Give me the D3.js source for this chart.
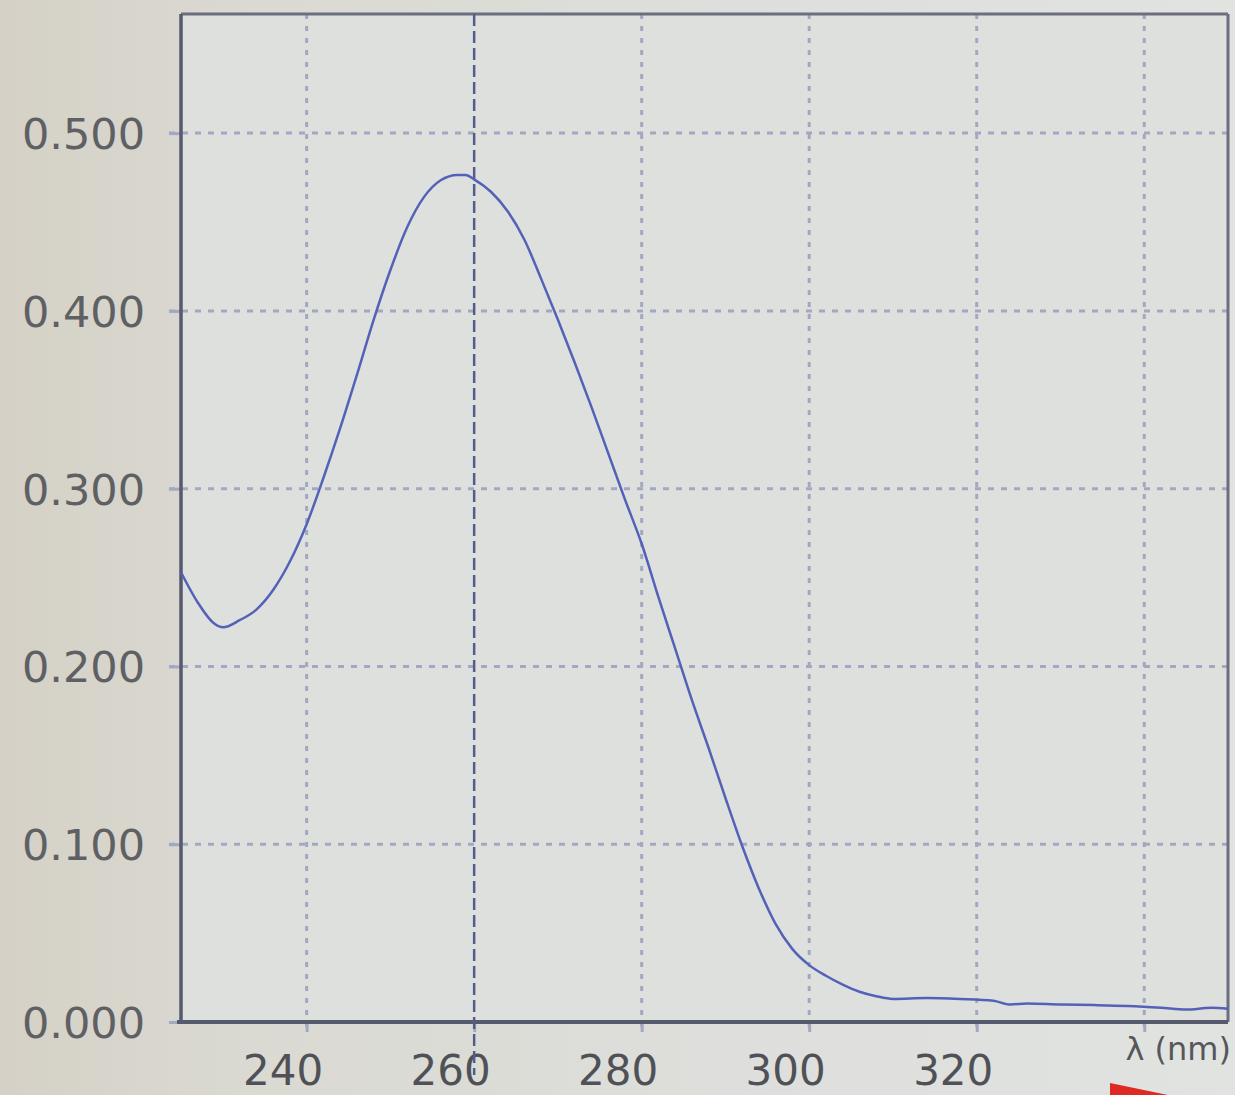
<!DOCTYPE html>
<html>
<head>
<meta charset="utf-8">
<script src="https://cdn.jsdelivr.net/npm/d3@7"></script>
<style>
  html, body { margin: 0; padding: 0; }
  body { width: 1235px; height: 1095px; overflow: hidden;
         background: linear-gradient(90deg, #d5d1c6 0%, #dad9d2 20%, #dedfdc 60%, #e1e3e0 100%); }
  svg { display: block; }
</style>
</head>
<body>
<svg id="chart" width="1235" height="1095"></svg>
<script>
// Absorbance spectrum
const wavelengths = [225, 227, 229, 230, 232, 234, 236, 238, 240, 242, 244, 246, 248, 250, 252, 254, 256, 258, 259, 260, 262, 264, 266, 268, 270, 272, 274, 276, 278, 280, 282, 284, 286, 288, 290, 292, 294, 296, 298, 300, 302, 304, 306, 308, 310, 314, 318, 322, 324, 326, 330, 334, 338, 342, 345, 348, 350];
const absorbance = [0.253, 0.236, 0.224, 0.222, 0.226, 0.232, 0.243, 0.259, 0.280, 0.306, 0.334, 0.364, 0.395, 0.423, 0.447, 0.464, 0.4735, 0.4765, 0.4765, 0.474, 0.467, 0.456, 0.440, 0.418, 0.395, 0.371, 0.346, 0.320, 0.294, 0.269, 0.239, 0.210, 0.181, 0.154, 0.126, 0.099, 0.075, 0.055, 0.041, 0.032, 0.026, 0.021, 0.017, 0.0145, 0.013, 0.0135, 0.013, 0.012, 0.0098, 0.0104, 0.0098, 0.0095, 0.009, 0.008, 0.007, 0.008, 0.0075];
const xTicks = [240, 260, 280, 300, 320, 340];
const xTickLabels = ["240", "260", "280", "300", "320", ""];
const yTicks = [0.0, 0.1, 0.2, 0.3, 0.4, 0.5];
const cursorWavelength = 260;
const xAxisTitle = "λ (nm)";

const svg = d3.select("#chart");
const x = d3.scaleLinear().domain([225, 350]).range([181, 1228]);
const y = d3.scaleLinear().domain([0, 0.567]).range([1022, 14]);

const gridColor = "#a3a8c2";
const frameColor = "#555a6c";

// plot area
svg.append("rect")
  .attr("x", x(225)).attr("y", y(0.567))
  .attr("width", x(350) - x(225)).attr("height", y(0) - y(0.567))
  .attr("fill", "#dee0dd");

// horizontal grid
svg.append("g").selectAll("line").data(yTicks.filter(d => d > 0)).join("line")
  .attr("x1", x(225) - 12).attr("x2", x(350))
  .attr("y1", d => y(d)).attr("y2", d => y(d))
  .attr("stroke", gridColor).attr("stroke-width", 3)
  .attr("stroke-dasharray", "6,7");

// vertical grid
svg.append("g").selectAll("line").data(xTicks.filter(d => d !== cursorWavelength)).join("line")
  .attr("x1", d => x(d)).attr("x2", d => x(d))
  .attr("y1", y(0.567)).attr("y2", y(0) + 10)
  .attr("stroke", gridColor).attr("stroke-width", 3)
  .attr("stroke-dasharray", "5,7");

// y ticks and labels
const yAxis = d3.axisLeft(y).tickValues(yTicks).tickFormat(d3.format(".3f")).tickSize(12).tickPadding(24);
const gy = svg.append("g").attr("transform", `translate(${x(225)},0)`).call(yAxis);
gy.select(".domain").remove();
gy.selectAll(".tick line").attr("stroke", gridColor).attr("stroke-width", 3);
gy.selectAll(".tick text")
  .attr("fill", "#5e6063").attr("font-family", "DejaVu Sans").attr("font-size", 43)
  .attr("dy", "0.36em");

// x ticks and labels
const xAxis = d3.axisBottom(x).tickValues(xTicks).tickFormat((d, i) => xTickLabels[i]).tickSize(10).tickPadding(20);
const gx = svg.append("g").attr("transform", `translate(0,${y(0)})`).call(xAxis);
gx.select(".domain").remove();
gx.selectAll(".tick line").attr("stroke", gridColor).attr("stroke-width", 3);
gx.selectAll(".tick text")
  .attr("fill", "#4f5156").attr("font-family", "DejaVu Sans").attr("font-size", 42)
  .attr("dx", -24).attr("dy", "0.78em");

// frame
svg.append("line").attr("x1", x(225)).attr("x2", x(350)).attr("y1", y(0.567)).attr("y2", y(0.567))
  .attr("stroke", "#6a6e7e").attr("stroke-width", 3);
svg.append("line").attr("x1", x(350)).attr("x2", x(350)).attr("y1", y(0.567)).attr("y2", y(0))
  .attr("stroke", "#6a6e7e").attr("stroke-width", 3);
svg.append("line").attr("x1", x(225)).attr("x2", x(225)).attr("y1", y(0.567)).attr("y2", y(0))
  .attr("stroke", frameColor).attr("stroke-width", 3.5);
svg.append("line").attr("x1", x(225) - 4).attr("x2", x(350)).attr("y1", y(0)).attr("y2", y(0))
  .attr("stroke", frameColor).attr("stroke-width", 4);

// cursor line at 260 nm
svg.append("line")
  .attr("x1", x(cursorWavelength)).attr("x2", x(cursorWavelength))
  .attr("y1", y(0.567)).attr("y2", 1075)
  .attr("stroke", "#535d8c").attr("stroke-width", 2.5)
  .attr("stroke-dasharray", "12,5");

// spectrum
const data = wavelengths.map((w, i) => ({ w, a: absorbance[i] }));
const line = d3.line().x(d => x(d.w)).y(d => y(d.a)).curve(d3.curveMonotoneX);
svg.append("path").datum(data)
  .attr("d", line)
  .attr("fill", "none").attr("stroke", "#5362b8").attr("stroke-width", 2.5)
  .attr("stroke-linejoin", "round");

// axis title
svg.append("text")
  .attr("x", x(350) + 3).attr("y", 1060)
  .attr("text-anchor", "end")
  .attr("fill", "#55575c").attr("font-family", "DejaVu Sans").attr("font-size", 32)
  .text(xAxisTitle);

// red marker at the bottom (part of the photographed screen)
svg.append("path")
  .attr("d", d3.line()([[1110, 1083], [1168, 1095], [1110, 1095]]) + "Z")
  .attr("fill", "#dd2a22");
</script>
</body>
</html>
